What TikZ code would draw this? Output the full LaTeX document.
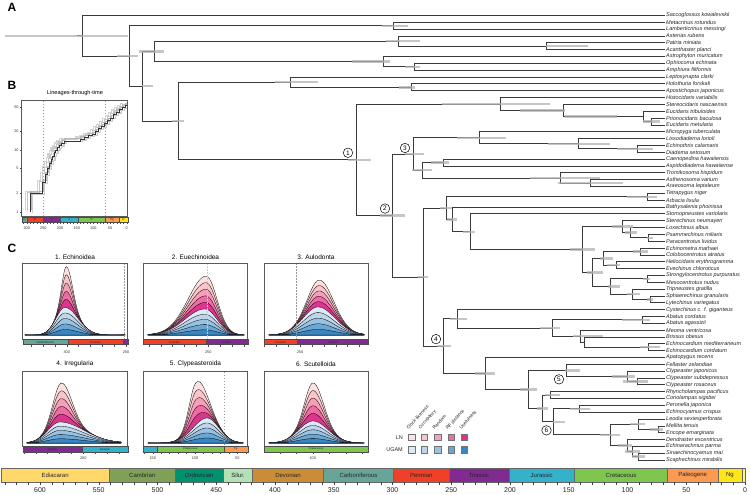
\documentclass[tikz,border=0pt]{standalone}
\usepackage{fontspec}
\setmainfont{Liberation Sans}
\usetikzlibrary{calc}
\definecolor{brc}{HTML}{3A3A3A}
\definecolor{hpdc}{HTML}{B3B3B3}
\definecolor{cEdi}{HTML}{FED96A}
\definecolor{cCam}{HTML}{7FA056}
\definecolor{cOrd}{HTML}{009270}
\definecolor{cSil}{HTML}{B3E1B6}
\definecolor{cDev}{HTML}{CB8C37}
\definecolor{cCar}{HTML}{67A599}
\definecolor{cPer}{HTML}{F04028}
\definecolor{cTri}{HTML}{812B92}
\definecolor{cJur}{HTML}{34B2C9}
\definecolor{cCre}{HTML}{7FC64E}
\definecolor{cPal}{HTML}{FD9A52}
\definecolor{cNeo}{HTML}{FFE619}
\definecolor{cQua}{HTML}{F9F97F}
\definecolor{lnA}{HTML}{FCE1E1}
\definecolor{lnB}{HTML}{F9C5CA}
\definecolor{lnC}{HTML}{F5A0B8}
\definecolor{lnD}{HTML}{EE6BA3}
\definecolor{lnE}{HTML}{DA3690}
\definecolor{ugA}{HTML}{DDEAF6}
\definecolor{ugB}{HTML}{BED6EB}
\definecolor{ugC}{HTML}{99C2E1}
\definecolor{ugD}{HTML}{6AA7D5}
\definecolor{ugE}{HTML}{3A86C2}
\newcommand\inode[4]{\path let \p1=(#3),\p2=(#4) in ({#2pt},{(\y1)/2+(\y2)/2}) coordinate (#1);}
\newcommand\bnode[4]{\inode{#1}{#2}{#3}{#4}\draw[br] (#1) |- (#3) (#1) |- (#4);}
\newcommand\hpd[3]{\draw[hpd] let \p1=(#1) in ({#2pt},\y1) -- ({#3pt},\y1);}
\newcommand\dstack{%
\foreach \k/\col in {10/lnA,9/lnB,8/lnC,7/lnD,6/lnE,5/ugA,4/ugB,3/ugC,2/ugD,1/ugE}{%
\pgfmathsetmacro\kb{min(\k,5)}%
\pgfmathsetmacro\kp{max(\k-5,0)}%
\filldraw[fill=\col,draw=black,line width=0.3pt,line join=round] plot[domain=\xa:\xb,samples=100] (\x,{\yb-\kb*\hb*exp(max(-20,-0.5*((\x-\mub)/((\x<\mub)?\sbl:\sbr))^2))-\kp*\hp*exp(max(-20,-0.5*((\x-\mup)/((\x<\mup)?\spl:\spr))^2))}) -- (\xb,\yb) -- (\xa,\yb) -- cycle;}}
\begin{document}
\begin{tikzpicture}[x=1pt,y=-1pt,
  br/.style={draw=brc,line width=0.8pt},
  hpd/.style={draw=hpdc,line width=2.4pt,opacity=0.75},
  tiplab/.style={anchor=west,font=\fontsize{5.5}{6}\selectfont\itshape,inner sep=1pt,text=black!85},
  circ/.style={circle,draw=black,fill=white,line width=0.5pt,inner sep=0pt,minimum size=9.5pt,font=\fontsize{6.5}{7}\selectfont},
  plab/.style={font=\fontsize{12}{14}\selectfont\bfseries,inner sep=0pt},
  ptitle/.style={font=\fontsize{6.5}{7.5}\selectfont,inner sep=0pt},
  axlab/.style={font=\fontsize{3.8}{4.5}\selectfont,inner sep=0.5pt,text=black!80},
  barlab/.style={font=\fontsize{2.8}{3}\selectfont,inner sep=0pt,text=black!85},
  pbox/.style={draw=black!65,line width=0.6pt},
  bseg/.style={draw=black!70,line width=0.3pt},
  tickln/.style={draw=black!70,line width=0.3pt},
  dashln/.style={draw=black!40,line width=0.45pt,dash pattern=on 1.5pt off 1.5pt},
  leg/.style={draw=black!55,line width=0.4pt,minimum size=6.5pt,inner sep=0pt}]
\useasboundingbox (0,0) rectangle (750,495);
\fill[white] (0,0) rectangle (750,495);

% ---------------- panel letters
\node[plab] (LA) at (12,7) {A};
\node[plab] (LB) at (12,85) {B};
\node[plab] (LC) at (12,248) {C};

% ---------------- tree tips
\foreach \i/\nm in {1/Saccoglossus kowalevskii,2/Metacrinus rotundus,3/Lamberticrinus messingi,4/Asterias rubens,5/Patiria miniata,6/Acanthaster planci,7/Astrophyton muricatum,8/Ophiocoma echinata,9/Amphiura filiformis,10/Leptosynapta clarki,11/Holothuria forskali,12/Apostichopus japonicus,13/Histocidaris variabilis,14/Stereocidaris nascaensis,15/Eucidaris tribuloides,16/Prionocidaris baculosa,17/Eucidaris metularia,18/Micropyga tuberculata,19/Lissodiadema lorioli,20/Echinothrix calamaris,21/Diadema setosum,22/Caenopedina hawaiiensis,23/Aspidodiadema hawaiiense,24/Tromikosoma hispidum,25/Asthenosoma varium,26/Araeosoma leptaleum,27/Tetrapygus niger,28/Arbacia lixula,29/Bathysalenia phoinissa,30/Stomopneustes variolaris,31/Sterechinus neumayeri,32/Loxechinus albus,33/Psammechinus miliaris,34/Paracentrotus lividus,35/Echinometra mathaei,36/Colobocentrotus atratus,37/Heliocidaris erythrogramma,38/Evechinus chloroticus,39/Strongylocentrotus purpuratus,40/Mesocentrotus nudus,41/Tripneustes gratilla,42/Sphaerechinus granularis,43/Lytechinus variegatus,44/Cystechinus c. f. giganteus,45/Abatus cordatus,46/Abatus agassizii,47/Meoma ventricosa,48/Brissus obesus,49/Echinocardium mediterraneum,50/Echinocardium cordatum,51/Apatopygus recens,52/Fellaster zelandiae,53/Clypeaster japonicus,54/Clypeaster subdepressus,55/Clypeaster rosaceus,56/Rhyncholampas pacificus,57/Conolampas sigsbei,58/Peronella japonica,59/Echinocyamus crispus,60/Leodia sexiesperforata,61/Mellita tenuis,62/Encope emarginata,63/Dendraster excentricus,64/Echinarachnius parma,65/Sinaechinocyamus mai,66/Scaphechinus mirabilis}{%
\node[tiplab] (t\i) at (665,{8.66+6.84*\i}) {\nm};}

% ---------------- internal nodes
\bnode{pa}{546}{t5}{t6}
\bnode{asd}{398}{t4}{pa}
\bnode{op2}{414}{t8}{t9}
\bnode{oph}{383}{t7}{op2}
\bnode{ast}{154}{asd}{oph}
\bnode{cri}{393}{t2}{t3}
\bnode{ho2}{411}{t11}{t12}
\bnode{hol}{290}{t10}{ho2}
\bnode{cs3}{651}{t16}{t17}
\bnode{cs2}{643}{t15}{cs3}
\bnode{cs1}{563}{t14}{cs2}
\bnode{cid}{500}{t13}{cs1}
\bnode{di3}{637}{t20}{t21}
\bnode{di2}{578}{t19}{di3}
\bnode{dia}{479}{t18}{di2}
\bnode{asp}{443}{t22}{t23}
\bnode{et2}{590}{t25}{t26}
\bnode{eth}{560}{t24}{et2}
\bnode{n3b}{422}{asp}{eth}
\bnode{n3}{413}{dia}{n3b}
\bnode{arb}{647}{t27}{t28}
\bnode{pa3}{648}{t33}{t34}
\bnode{pa2}{630}{t32}{pa3}
\bnode{par}{622}{t31}{pa2}
\bnode{em1}{640}{t35}{t36}
\bnode{em2}{616}{t37}{t38}
\bnode{emt}{603}{em1}{em2}
\bnode{st1}{647}{t39}{t40}
\bnode{to2}{650}{t42}{t43}
\bnode{tox}{632}{t41}{to2}
\bnode{stt}{610}{st1}{tox}
\bnode{rst}{592}{emt}{stt}
\bnode{cam}{582}{par}{rst}
\bnode{ecn}{470}{t30}{cam}
\bnode{sal}{452}{t29}{ecn}
\bnode{car}{446}{arb}{sal}
\bnode{aba}{642}{t45}{t46}
\bnode{eca}{648}{t49}{t50}
\bnode{sp2}{584}{t48}{eca}
\bnode{spa}{580}{t47}{sp2}
\bnode{spt}{552}{aba}{spa}
\bnode{ate}{457}{t44}{spt}
\bnode{cl3}{637}{t54}{t55}
\bnode{cl2}{627}{t53}{cl3}
\bnode{cly}{566}{t52}{cl2}
\bnode{cas}{550}{t56}{t57}
\bnode{lag}{579}{t58}{t59}
\bnode{me2}{658}{t61}{t62}
\bnode{me1}{638}{t60}{me2}
\bnode{de3}{638}{t65}{t66}
\bnode{de2}{632}{t64}{de3}
\bnode{de1}{627}{t63}{de2}
\bnode{sct}{610}{me1}{de1}
\bnode{scu}{553}{lag}{sct}
\bnode{n3c}{542}{cas}{scu}
\bnode{nx}{528}{cly}{n3c}
\bnode{neo}{485}{t51}{nx}
\bnode{n4}{443}{ate}{neo}
\bnode{acro}{423}{car}{n4}
\bnode{n2}{392}{n3}{acro}
\bnode{n1}{356}{cid}{n2}
\bnode{ezo}{178}{hol}{n1}
\bnode{ele}{142}{ast}{ezo}
\bnode{ech}{129}{cri}{ele}
\bnode{root}{82}{t1}{ech}
\draw[br] (root) -- ++(-5,0) coordinate (rstem);

% ---------------- HPD bars
\hpd{root}{5}{128}
\hpd{ech}{117}{138}
\hpd{ele}{142}{153}
\hpd{ast}{139}{164}
\hpd{ezo}{172}{184}
\hpd{hol}{275}{318}
\hpd{ho2}{399}{415}
\hpd{oph}{352}{390}
\hpd{op2}{405}{420}
\hpd{asd}{386}{420}
\hpd{pa}{546}{588}
\hpd{cri}{382}{408}
\hpd{n1}{348}{371}
\hpd{cid}{442}{550}
\hpd{cs1}{520}{565}
\hpd{cs2}{565}{617}
\hpd{cs3}{643}{660}
\hpd{n3}{405}{424}
\hpd{dia}{457}{506}
\hpd{di2}{548}{610}
\hpd{di3}{617}{653}
\hpd{n3b}{412}{432}
\hpd{asp}{431}{449}
\hpd{eth}{530}{600}
\hpd{et2}{558}{623}
\hpd{n2}{380}{405}
\hpd{acro}{418}{428}
\hpd{car}{440}{452}
\hpd{sal}{447}{457}
\hpd{ecn}{463}{475}
\hpd{cam}{570}{595}
\hpd{arb}{627}{657}
\hpd{par}{612}{633}
\hpd{pa2}{625}{637}
\hpd{pa3}{647}{653}
\hpd{rst}{587}{603}
\hpd{emt}{600}{613}
\hpd{em1}{633}{648}
\hpd{em2}{607}{620}
\hpd{stt}{608}{620}
\hpd{st1}{643}{650}
\hpd{tox}{627}{640}
\hpd{to2}{647}{653}
\hpd{n4}{437}{451}
\hpd{ate}{450}{467}
\hpd{spt}{540}{560}
\hpd{aba}{622}{650}
\hpd{spa}{573}{603}
\hpd{eca}{640}{660}
\hpd{neo}{475}{495}
\hpd{nx}{520}{537}
\hpd{cly}{565}{580}
\hpd{cl2}{612}{635}
\hpd{cl3}{623}{648}
\hpd{n3c}{537}{548}
\hpd{cas}{545}{560}
\hpd{scu}{553}{565}
\hpd{lag}{570}{590}
\hpd{sct}{600}{620}
\hpd{me1}{630}{645}
\hpd{me2}{650}{663}
\hpd{de1}{618}{632}
\hpd{de2}{625}{640}
\hpd{de3}{632}{645}

% ---------------- circled node labels
\node[circ] (c1) at ([shift={(-8,-7)}]n1) {1};
\node[circ] (c2) at ([shift={(-7,-7)}]n2) {2};
\node[circ] (c3) at ([shift={(-8,-6)}]n3) {3};
\node[circ] (c4) at ([shift={(-7,-7)}]n4) {4};
\node[circ] (c5) at ([shift={(-7,9)}]cly) {5};
\node[circ] (c6) at ([shift={(-6.5,8.5)}]scu) {6};

% ---------------- panel B : LTT
\node[ptitle,font=\fontsize{5.6}{6.5}\selectfont] (Btitle) at (75,92.7) {Lineages-through-time};
\draw[dashln] (43.3,100.7) -- (43.3,216.7);
\draw[dashln] (105.7,100.7) -- (105.7,216.7);
\def\lttpath{(30,211.7) -- (30,193.1) -| (42,182.2) -| (45,174.5) -| (47,168.5) -| (49,163.6) -| (51,159.5) -| (52.5,155.9) -| (54,152.7) -| (55.5,149.9) -| (57.5,147.3) -| (59,145.0) -| (61.5,142.9) -| (64,140.9) -| (80,139.0) -| (84,137.3) -| (88,135.7) -| (92,134.1) -| (95,131.3) -| (98,128.7) -| (101,126.4) -| (104,123.3) -| (107,120.4) -| (110,117.9) -| (113,114.8) -| (116,112.0) -| (119,109.5) -| (122,107.3) -| (125,105.6) -- (127.7,105.6)}
\begin{scope}
\clip (21.7,100.7) rectangle (127.7,216.7);
\begin{scope}[xshift=-2.5pt,yshift=1pt]\draw[gray!45,line width=1.1pt] \lttpath;\end{scope}
\begin{scope}[xshift=2.5pt,yshift=-1pt]\draw[gray!40,line width=1.1pt] \lttpath;\end{scope}
\begin{scope}[xshift=-4.5pt,yshift=2pt]\draw[gray!35,line width=1.1pt] \lttpath;\end{scope}
\begin{scope}[xshift=1pt,yshift=2pt]\draw[gray!55,line width=1.1pt] \lttpath;\end{scope}
\draw[black!80,line width=0.7pt] \lttpath;
\end{scope}
\draw[pbox] (21.7,100.7) rectangle (127.7,216.7);
\foreach \v/\yy [count=\n] in {1/211.7,2/193.1,5/168.5,10/149.9,20/131.3,50/106.7}{%
\draw[tickln] (21.7,\yy) -- (19.7,\yy);
\node[axlab,anchor=east] (by\n) at (19.3,\yy) {\v};}
\foreach \ta/\tb/\cc/\lab [count=\n] in {21.7/27/cCar/C,27/42.7/cPer/P,42.7/59.7/cTri/T,59.7/78.4/cJur/J,78.4/104.7/cCre/K,104.7/119/cPal/Pg,119/127.7/cNeo/N}{%
\path[fill=\cc,bseg] (\ta,216.7) rectangle (\tb,222);
\node[barlab,font=\fontsize{3}{3}\selectfont] (bb\n) at ({(\ta+\tb)/2},219.4) {\lab};}
\foreach \t in {0,10,...,310}{\draw[tickln] ({126.7-\t/3},222) -- ++(0,2);}
\foreach \t [count=\n] in {0,50,...,300}{\node[axlab] (bx\n) at ({126.7-\t/3},228.3) {\t};}

% ---------------- panel C : density panels
\node[ptitle] (T1) at (75,256.7) {1. Echinoidea};
\node[ptitle] (T2) at (195.5,256.7) {2. Euechinoidea};
\node[ptitle] (T3) at (316,256.7) {3. Aulodonta};
\node[ptitle] (T4) at (75,364.3) {4. Irregularia};
\node[ptitle] (T5) at (195.5,364.3) {5. Clypeasteroida};
\node[ptitle] (T6) at (316,364.3) {6. Scutelloida};

% panel 1
\def\xa{25}\def\xb{125}\def\yb{335}\def\mub{65}\def\sbl{9}\def\sbr{13}\def\hb{5.5}\def\mup{66.5}\def\spl{4.5}\def\spr{6}\def\hp{8.2}
\dstack
\draw[dashln] (124.3,263.3) -- (124.3,339.3);
\draw[pbox] (22.7,263.3) rectangle (127.7,339.3);
\path[fill=cCar,bseg] (22.7,339.3) rectangle (67.9,344.6);
\path[fill=cPer,bseg] (67.9,339.3) rectangle (123.6,344.6);
\path[fill=cTri,bseg] (123.6,339.3) rectangle (127.7,344.6);
\node[barlab] (b1a) at (45.3,342) {Carboniferous};
\node[barlab] (b1b) at (95.7,342) {Permian};
\foreach \t in {330,320,...,250}{\draw[tickln] ({66.7+(300-\t)*1.186},344.6) -- ++(0,2);}
\node[axlab] (x1a) at (66.7,351.7) {300};
\node[axlab] (x1b) at (126,351.7) {250};

% panel 2
\def\xa{148}\def\xb{244}\def\yb{335}\def\mub{205}\def\sbl{20}\def\sbr{12}\def\hb{5.2}\def\mup{207}\def\spl{17}\def\spr{10}\def\hp{6.6}
\dstack
\draw[dashln,draw=white!80!black] (207.3,263.3) -- (207.3,339.3);
\draw[pbox] (143.3,263.3) rectangle (247.7,339.3);
\path[fill=cPer,bseg] (143.3,339.3) rectangle (205.9,344.6);
\path[fill=cTri,bseg] (205.9,339.3) rectangle (247.7,344.6);
\node[barlab] (b2a) at (174.6,342) {Permian};
\node[barlab] (b2b) at (226.8,342) {Triassic};
\foreach \t in {300,290,...,220}{\draw[tickln] ({208.3+(250-\t)*1.19},344.6) -- ++(0,2);}
\node[axlab] (x2a) at (208.3,351.7) {250};

% panel 3
\def\xa{269}\def\xb{364}\def\yb{335}\def\mub{318}\def\sbl{15}\def\sbr{17}\def\hb{5.6}\def\mup{320}\def\spl{11}\def\spr{13}\def\hp{5.4}
\dstack
\draw[dashln] (296,263.3) -- (296,339.3);
\draw[pbox] (264,263.3) rectangle (368.3,339.3);
\path[fill=cPer,bseg] (264,339.3) rectangle (297.6,344.6);
\path[fill=cTri,bseg] (297.6,339.3) rectangle (368.3,344.6);
\node[barlab] (b3a) at (280.8,342) {Permian};
\node[barlab] (b3b) at (333,342) {Triassic};
\foreach \t in {280,270,...,200}{\draw[tickln] ({300+(250-\t)*1.19},344.6) -- ++(0,2);}
\node[axlab] (x3a) at (300,351.7) {250};

% panel 4
\def\xa{27}\def\xb{121}\def\yb{443}\def\mub{60}\def\sbl{12}\def\sbr{24}\def\hb{4.2}\def\mup{61.7}\def\spl{8}\def\spr{10}\def\hp{7.8}
\dstack
\draw[pbox] (22.7,371.7) rectangle (127.7,446);
\path[fill=cTri,bseg] (22.7,446) rectangle (82.1,452);
\path[fill=cJur,bseg] (82.1,446) rectangle (127.7,452);
\node[barlab] (b4a) at (52.4,449) {Triassic};
\node[barlab] (b4b) at (104.9,449) {Jurassic};
\foreach \t in {250,240,...,170}{\draw[tickln] ({83.3+(200-\t)*1.19},452) -- ++(0,2);}
\node[axlab] (x4a) at (83.3,458.3) {200};

% panel 5
\def\xa{148}\def\xb{243}\def\yb{443}\def\mub{207}\def\sbl{14}\def\sbr{12}\def\hb{5}\def\mup{196}\def\spl{7}\def\spr{10}\def\hp{8.4}
\dstack
\draw[dashln] (224.7,371.7) -- (224.7,446);
\draw[pbox] (143.3,371.7) rectangle (247.7,446);
\path[fill=cJur,bseg] (143.3,446) rectangle (156.9,452);
\path[fill=cCre,bseg] (156.9,446) rectangle (223.8,452);
\path[fill=cPal,bseg] (223.8,446) rectangle (247.7,452);
\node[barlab] (b5a) at (190.3,449) {Cretaceous};
\node[barlab] (b5b) at (235.7,449) {Pg};
\foreach \t in {160,150,...,40}{\draw[tickln] ({195+(100-\t)*0.846},452) -- ++(0,2);}
\node[axlab] (x5a) at (152.7,458.3) {150};
\node[axlab] (x5b) at (195,458.3) {100};
\node[axlab] (x5c) at (237.3,458.3) {50};

% panel 6
\def\xa{269}\def\xb{364}\def\yb{443}\def\mub{313}\def\sbl{14}\def\sbr{15}\def\hb{4.4}\def\mup{313}\def\spl{8}\def\spr{10}\def\hp{7.6}
\dstack
\draw[pbox] (264,371.7) rectangle (368.3,446);
\path[fill=cCre,bseg] (264,446) rectangle (368.3,452);
\node[barlab] (b6a) at (316,449) {Cretaceous};
\foreach \t in {120,110,...,70}{\draw[tickln] ({312.7+(100-\t)*1.65},452) -- ++(0,2);}
\node[axlab] (x6a) at (312.7,458.3) {100};

% ---------------- legend
\foreach \xx/\lab/\cl/\cu [count=\n] in {411.7/Clock-likeness/lnA/ugA,424.3/Occupancy/lnB/ugB,437.7/Random/lnC/ugC,451/RF distance/lnD/ugD,464.3/Usefulness/lnE/ugE}{%
\node[leg,fill=\cl] (ln\n) at (\xx,437.3) {};
\node[leg,fill=\cu] (ug\n) at (\xx,449.5) {};
\node[rotate=48,anchor=south west,font=\fontsize{4.7}{5.5}\selectfont,inner sep=0pt,text=black!85] (lg\n) at (\xx-3,430) {\lab};}
\node[font=\fontsize{5.5}{6.5}\selectfont,anchor=east,inner sep=0pt,text=black!85] (LNlab) at (403,437.3) {LN};
\node[font=\fontsize{5.5}{6.5}\selectfont,anchor=east,inner sep=0pt,text=black!85] (UGlab) at (403,449.5) {UGAM};

% ---------------- geological time scale
\foreach \ta/\tb/\cc/\lab [count=\n] in {635/541/cEdi/Ediacaran,541/485/cCam/Cambrian,485/444/cOrd/Ordovician,444/419/cSil/Silur.,419/359/cDev/Devonian,359/299/cCar/Carboniferous,299/252/cPer/Permian,252/201/cTri/Triassic,201/145/cJur/Jurassic,145/66/cCre/Cretaceous,66/23/cPal/Paleogene,23/2.6/cNeo/Ng}{%
\path[fill=\cc,draw=black!60,line width=0.4pt] ({max(1,745-1.175*\ta)},468) rectangle ({745-1.175*\tb},482);
\node[font=\fontsize{6}{7}\selectfont,inner sep=0pt,text=black!85] (gs\n) at ({(max(1,745-1.175*\ta)+745-1.175*\tb)/2},475) {\lab};}
\path[fill=cQua,draw=black!60,line width=0.4pt] ({745-1.175*2.6},468) rectangle (745,482);
\foreach \t in {0,10,...,630}{\draw[draw=black!75,line width=0.4pt] ({745-1.175*\t},482) -- ++(0,3.2);}
\foreach \t [count=\n] in {0,50,...,600}{\node[font=\fontsize{7}{8}\selectfont,inner sep=0pt,text=black!85] (ga\n) at ({745-1.175*\t},490.5) {\t};}
\end{tikzpicture}
\end{document}
